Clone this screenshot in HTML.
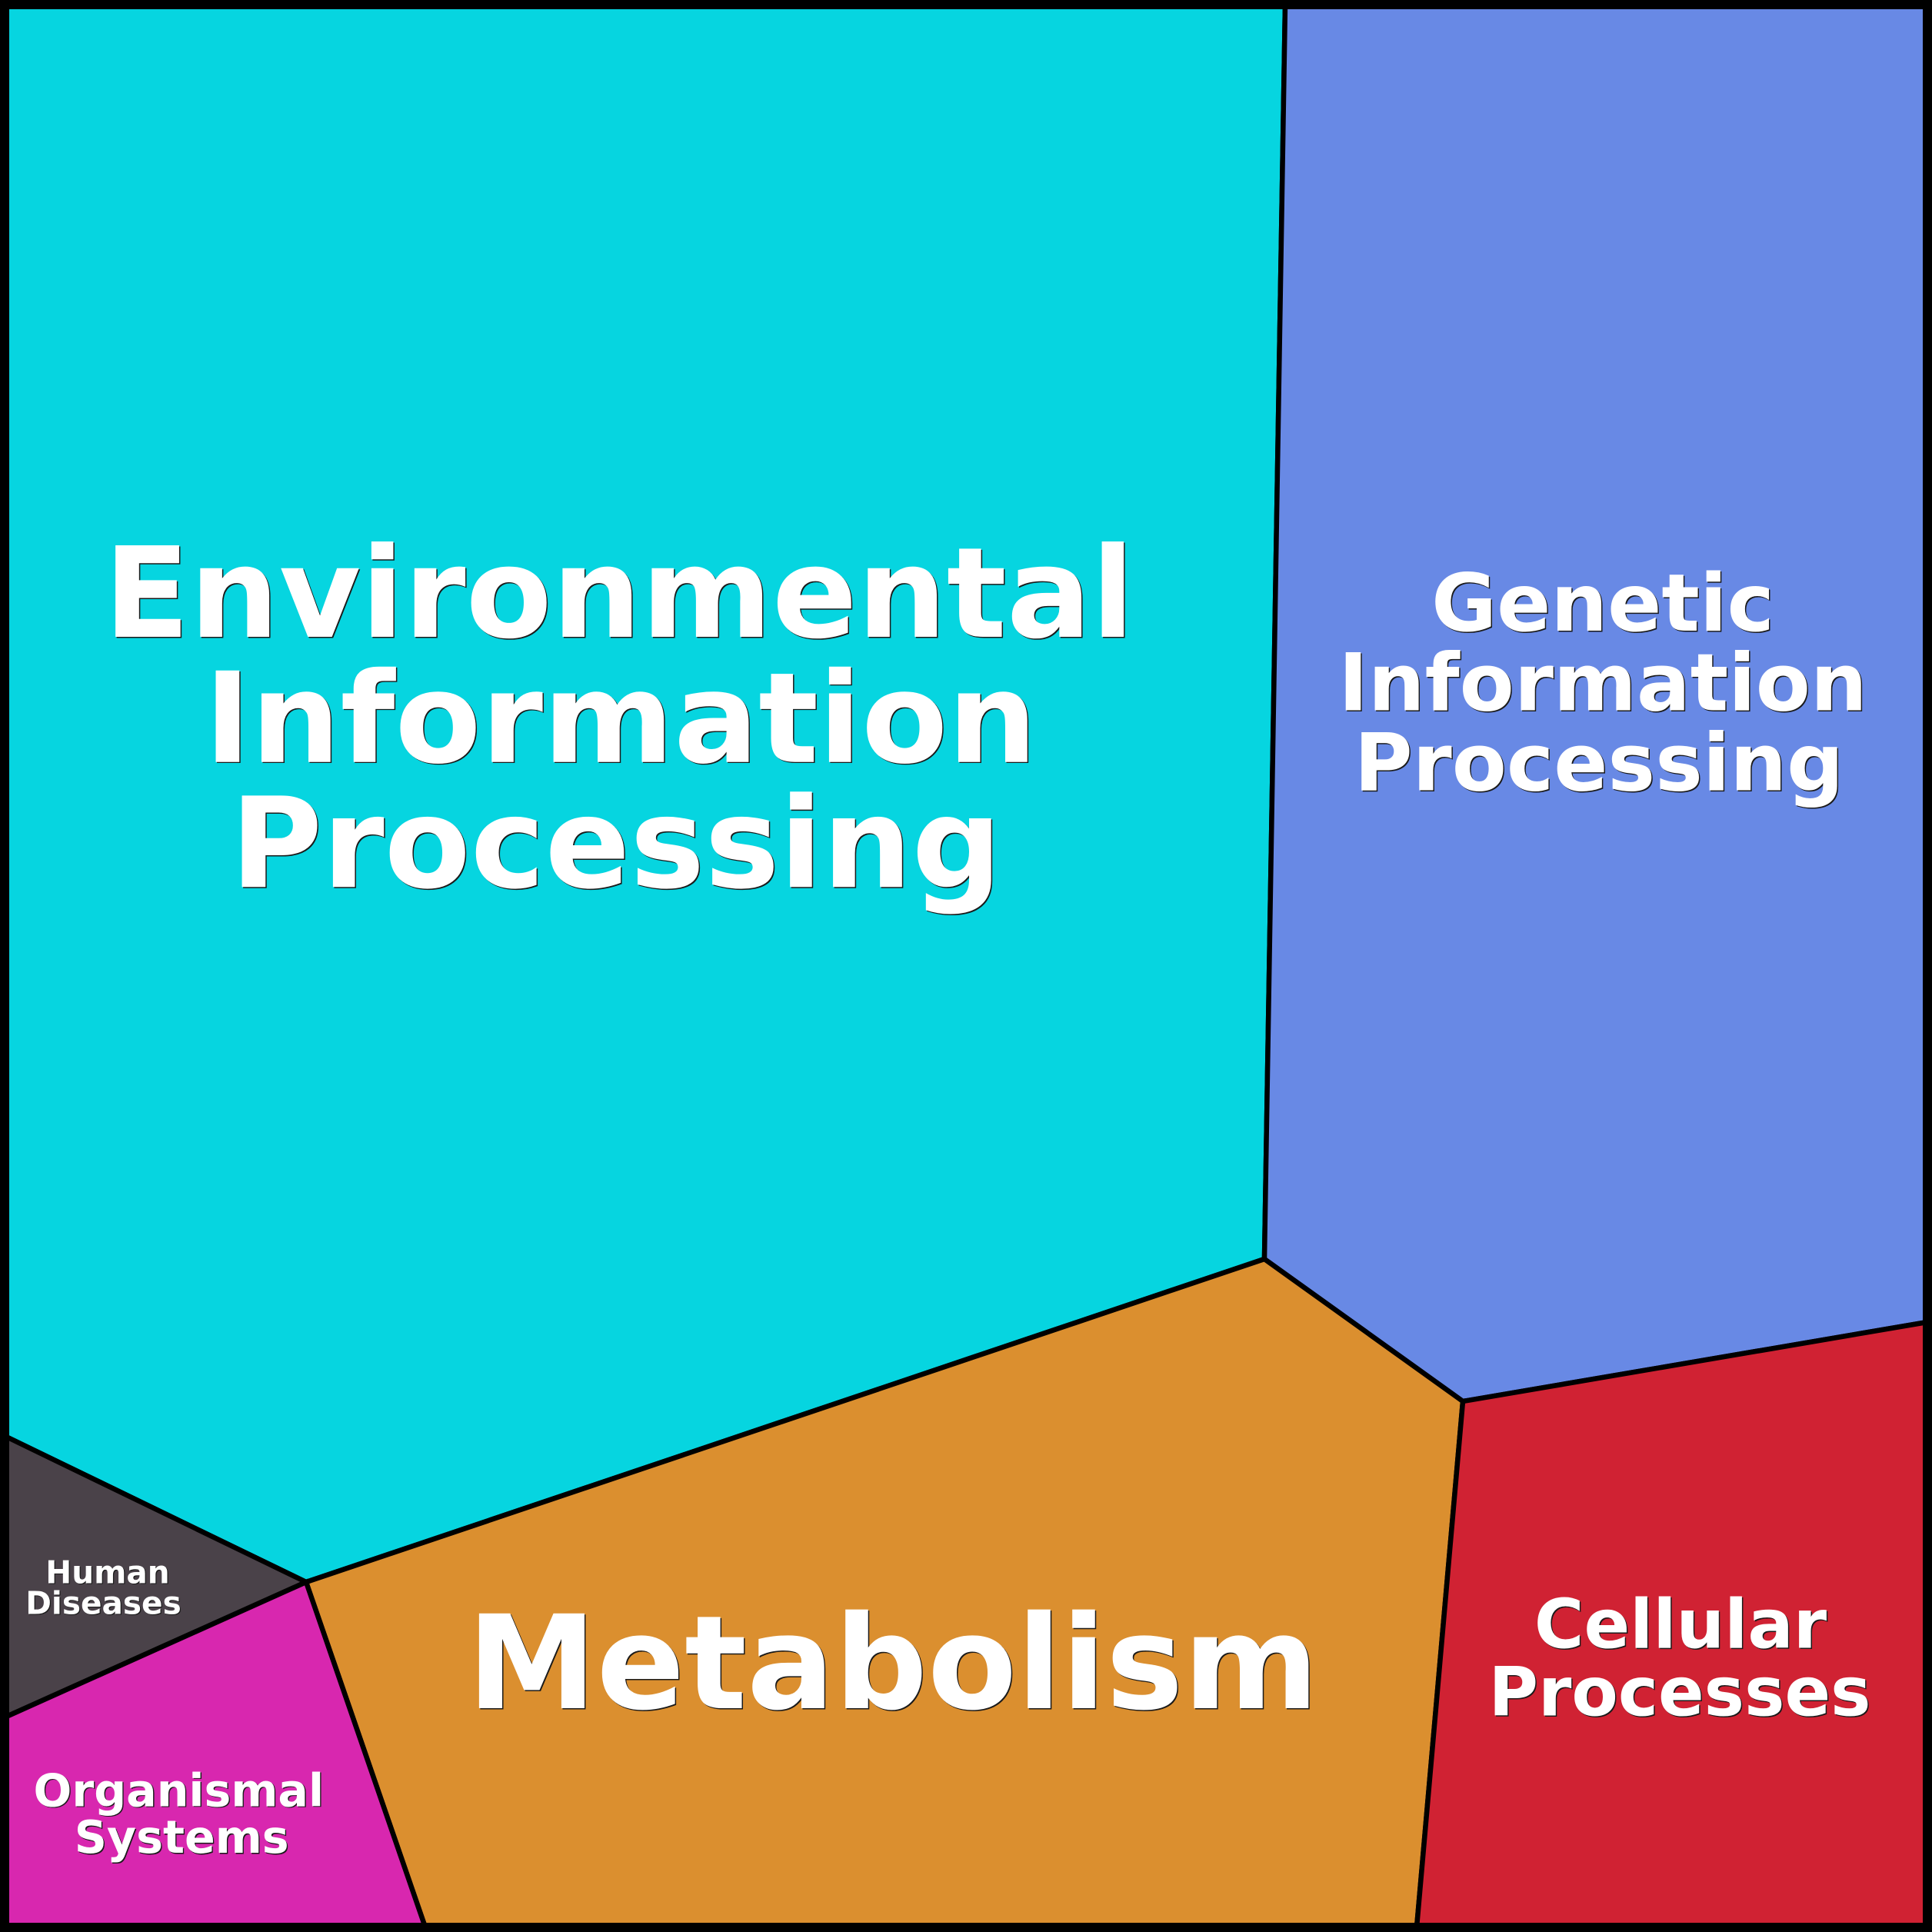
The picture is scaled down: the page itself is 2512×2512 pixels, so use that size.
<!DOCTYPE html>
<html>
<head>
<meta charset="utf-8">
<style>
html,body{margin:0;padding:0;background:#fff;}
svg{display:block;}
text{font-family:"DejaVu Sans","Liberation Sans",sans-serif;font-weight:bold;text-anchor:middle;}
.s{fill:#1a1a1a;}
.w{fill:#ffffff;}
</style>
</head>
<body>
<svg width="2512" height="2512" viewBox="0 0 2512 2512" xmlns="http://www.w3.org/2000/svg">
  <g stroke="#000" stroke-width="6.5" stroke-linejoin="miter">
    <polygon fill="#06D5E0" points="6,6 1671,6 1644,1637 398,2057 6,1867"/>
    <polygon fill="#6889E5" points="1671,6 2506,6 2506,1719 1902,1822 1644,1637"/>
    <polygon fill="#DB8F2F" points="1644,1637 1902,1822 1842,2506 553,2506 398,2057"/>
    <polygon fill="#D02233" points="1902,1822 2506,1719 2506,2506 1842,2506"/>
    <polygon fill="#4A4249" points="6,1867 398,2057 6,2233"/>
    <polygon fill="#D827AF" points="6,2233 398,2057 553,2506 6,2506"/>
  </g>
  <rect x="6" y="6" width="2500" height="2500" fill="none" stroke="#000" stroke-width="12"/>

  <!-- Environmental Information Processing -->
  <g font-size="163.2">
    <text class="s" x="806.5" y="829.5">Environmental</text>
    <text class="w" x="805" y="828">Environmental</text>
    <text class="s" x="808.5" y="992">Information</text>
    <text class="w" x="807" y="990.7">Information</text>
    <text class="s" x="802.5" y="1154.8">Processing</text>
    <text class="w" x="801" y="1153.3">Processing</text>
  </g>

  <!-- Genetic Information Processing -->
  <g font-size="103.6">
    <text class="s" x="2085.5" y="821.3">Genetic</text>
    <text class="w" x="2084" y="819.8">Genetic</text>
    <text class="s" x="2085.5" y="924.8">Information</text>
    <text class="w" x="2084" y="923.3">Information</text>
    <text class="s" x="2080.5" y="1028.8">Processing</text>
    <text class="w" x="2079" y="1027.3">Processing</text>
  </g>

  <!-- Metabolism -->
  <g font-size="169">
    <text class="s" x="1162.5" y="2222.5">Metabolism</text>
    <text class="w" x="1161" y="2221">Metabolism</text>
  </g>

  <!-- Cellular Processes -->
  <g font-size="88">
    <text class="s" x="2186.5" y="2144.2">Cellular</text>
    <text class="w" x="2185" y="2142.7">Cellular</text>
    <text class="s" x="2185.5" y="2232.2">Processes</text>
    <text class="w" x="2184" y="2230.7">Processes</text>
  </g>

  <!-- Human Diseases -->
  <g font-size="40.6">
    <text class="s" x="141.2" y="2059.5">Human</text>
    <text class="w" x="140" y="2058.3">Human</text>
    <text class="s" x="135.7" y="2099.5">Diseases</text>
    <text class="w" x="134.5" y="2098.3">Diseases</text>
  </g>

  <!-- Organismal Systems -->
  <g font-size="58.6">
    <text class="s" x="233.7" y="2349.7">Organismal</text>
    <text class="w" x="232.3" y="2348.3">Organismal</text>
    <text class="s" x="237.6" y="2410.4">Systems</text>
    <text class="w" x="236.2" y="2409">Systems</text>
  </g>
</svg>
</body>
</html>
